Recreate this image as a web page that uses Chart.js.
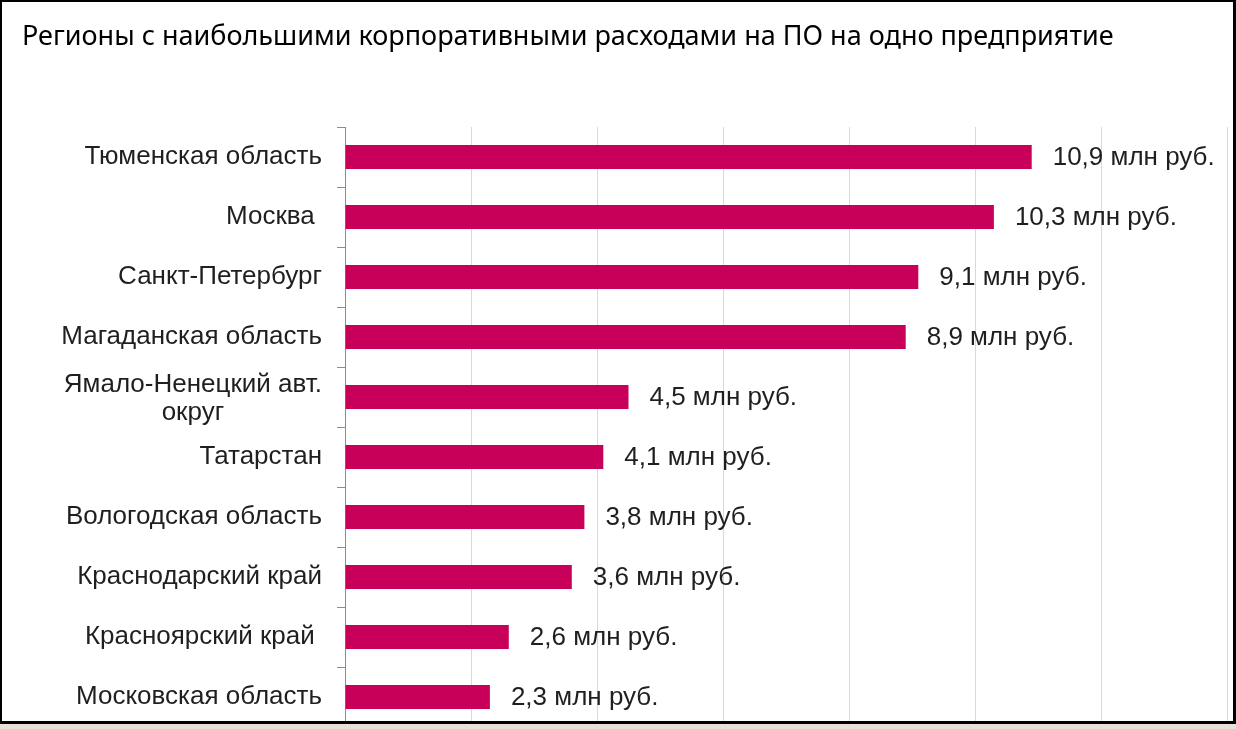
<!DOCTYPE html>
<html>
<head>
<meta charset="utf-8">
<script src="https://cdn.jsdelivr.net/npm/chart.js@4.4.1/dist/chart.umd.min.js"></script>
<style>
  html, body { margin: 0; padding: 0; background: #fff; }
  #wrap { position: relative; width: 1236px; height: 729px; overflow: hidden; }
  #c { position: absolute; left: 0; top: 0; }
  #frame { position: absolute; left: 0; top: 0; width: 1236px; height: 724px; box-sizing: border-box;
           border: 2px solid #000; border-right-width: 3px; border-bottom-width: 3px; pointer-events: none; }
  #strip { position: absolute; left: 0; top: 724px; width: 1236px; height: 5px; background: #e8e2d6; }
</style>
</head>
<body>
<div id="wrap">
  <canvas id="c" width="1236" height="729"></canvas>
  <div id="frame"></div>
  <div id="strip"></div>
</div>
<script>
const titleText = "Регионы с наибольшими корпоративными расходами на ПО на одно предприятие";
const categories = [
  "Тюменская область",
  "Москва ",
  "Санкт-Петербург",
  "Магаданская область",
  ["Ямало-Ненецкий авт.", "округ"],
  "Татарстан",
  "Вологодская область",
  "Краснодарский край",
  "Красноярский край ",
  "Московская область"
];
const values = [10.9, 10.3, 9.1, 8.9, 4.5, 4.1, 3.8, 3.6, 2.6, 2.3];
const valueLabels = ["10,9 млн руб.", "10,3 млн руб.", "9,1 млн руб.", "8,9 млн руб.", "4,5 млн руб.",
                     "4,1 млн руб.", "3,8 млн руб.", "3,6 млн руб.", "2,6 млн руб.", "2,3 млн руб."];
const xMin = 0, xMax = 14, xStep = 2;

const LABEL_FONT = '26px "Liberation Sans", Arial, sans-serif';

const labelPlugin = {
  id: 'labels',
  afterDatasetsDraw(chart) {
    const ctx = chart.ctx;
    const meta = chart.getDatasetMeta(0);
    const yScale = chart.scales.y;
    ctx.save();
    ctx.font = LABEL_FONT;
    ctx.fillStyle = '#1f1f1f';
    ctx.textBaseline = 'middle';
    meta.data.forEach((bar, i) => {
      ctx.textAlign = 'left';
      ctx.fillText(valueLabels[i], bar.x + 21, bar.y + 1);
    });
    const rightX = yScale.right - 23;
    categories.forEach((cat, i) => {
      const y = yScale.getPixelForValue(i);
      if (Array.isArray(cat)) {
        const widths = cat.map(l => ctx.measureText(l).width);
        const maxW = Math.max(...widths);
        const center = rightX - maxW / 2;
        const lh = 28;
        const y0 = y - (cat.length - 1) * lh / 2 + 2;
        ctx.textAlign = 'center';
        cat.forEach((l, k) => ctx.fillText(l, center, y0 + k * lh));
      } else {
        ctx.textAlign = 'right';
        ctx.fillText(cat, rightX, y);
      }
    });
    ctx.restore();
  }
};

new Chart(document.getElementById('c'), {
  type: 'bar',
  data: {
    labels: categories,
    datasets: [{
      data: values,
      backgroundColor: '#c8005a',
      borderWidth: 0,
      barPercentage: 0.4,
      categoryPercentage: 1.0
    }]
  },
  options: {
    indexAxis: 'y',
    responsive: false,
    animation: false,
    layout: { padding: { left: 22, right: 9, top: 0, bottom: 2 } },
    plugins: {
      legend: { display: false },
      tooltip: { enabled: false },
      title: {
        display: true,
        text: titleText,
        align: 'start',
        color: '#000',
        font: { family: '"Noto Sans", "Open Sans", sans-serif', size: 27, weight: 'normal', lineHeight: 1.2 },
        padding: { top: 21, bottom: 73.6 }
      }
    },
    scales: {
      x: {
        min: xMin, max: xMax,
        ticks: { display: false, stepSize: xStep },
        grid: { color: '#d9d9d9', drawTicks: false, lineWidth: 1 },
        border: { display: false }
      },
      y: {
        ticks: { display: false },
        grid: { display: true, drawOnChartArea: false, drawTicks: true, tickLength: 8, color: '#8c8c8c', offset: true },
        border: { display: true, color: '#8c8c8c', width: 1 },
        afterFit(scale) { scale.width = 323; }
      }
    }
  },
  plugins: [labelPlugin]
});
</script>
</body>
</html>
